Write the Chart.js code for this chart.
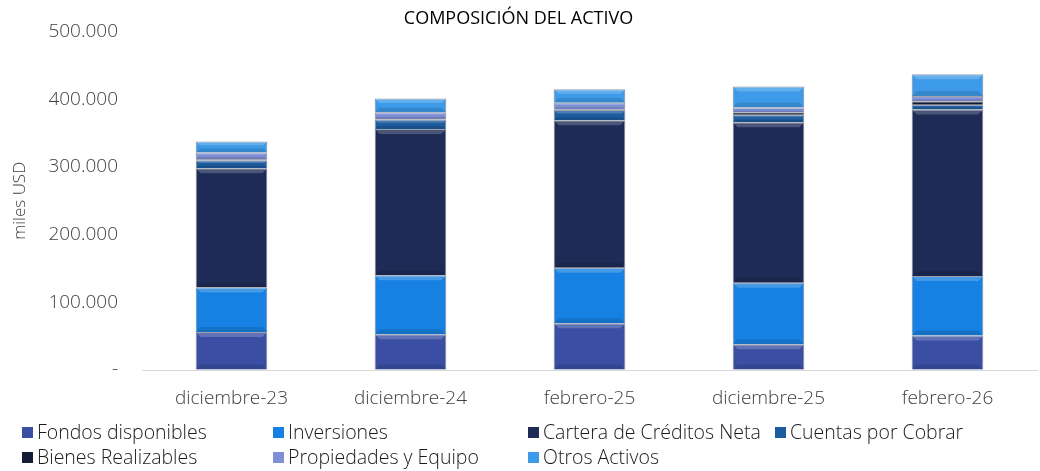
<!DOCTYPE html>
<html>
<head>
<meta charset="utf-8">
<script src="https://cdn.jsdelivr.net/npm/chart.js@4.4.1/dist/chart.umd.min.js"></script>
<style>
  html, body { margin: 0; padding: 0; background: #fff; }
  #wrap { position: relative; width: 1040px; height: 471px; }
  #legend {
    position: absolute; left: 22px; top: 421px;
    display: grid; grid-template-columns: 251px 255px 247px auto;
    row-gap: 3px;
    font-family: "Open Sans", sans-serif; font-size: 19.5px; font-weight: 300; color: #1a1a1a;
  }
  #legend div { display: flex; align-items: center; white-space: nowrap; line-height: 22px; }
  #legend span.box { display: inline-block; width: 11px; height: 11px; margin-right: 4px; }
</style>
</head>
<body>
<div id="wrap">
  <canvas id="activo" width="1040" height="471"></canvas>
  <div id="legend"></div>
</div>
<script>
const periods = ["diciembre-23", "diciembre-24", "febrero-25", "diciembre-25", "febrero-26"];

const fondos = [56000, 53000, 69000, 38000, 51000];
const inversiones = [66000, 87000, 82000, 91000, 88000];
const cartera = [176000, 216000, 218000, 237000, 246000];
const cuentas = [12000, 14000, 15000, 11000, 7000];
const bienes = [1500, 1000, 1000, 4000, 5000];
const propiedades = [10000, 10000, 10000, 7000, 8000];
const otros = [16000, 20000, 20000, 31000, 32000];

const seriesNames = [
  "Fondos disponibles",
  "Inversiones",
  "Cartera de Créditos Neta",
  "Cuentas por Cobrar",
  "Bienes Realizables",
  "Propiedades y Equipo",
  "Otros Activos",
];
const seriesData = [fondos, inversiones, cartera, cuentas, bienes, propiedades, otros];
const colors = ["#3a4fa3", "#1681e2", "#1e2b56", "#1d5c9e", "#141c36", "#7f8fd5", "#3c9ae8"];

// soft bevel look on top of each bar segment
const bevel = {
  id: "bevel",
  afterDatasetsDraw(chart) {
    const ctx = chart.ctx;
    chart.data.datasets.forEach((ds, i) => {
      chart.getDatasetMeta(i).data.forEach((bar) => {
        const { x, y, base, width } = bar.getProps(["x", "y", "base", "width"], true);
        const h = base - y;
        if (h <= 2) return;
        const left = x - width / 2, right = x + width / 2;
        const b = Math.min(5, h / 3);
        ctx.save();
        ctx.fillStyle = "rgba(255,255,255,0.2)";
        ctx.beginPath();
        ctx.moveTo(left, y);
        ctx.lineTo(right, y);
        ctx.lineTo(right - b, y + b);
        ctx.lineTo(left + b, y + b);
        ctx.closePath();
        ctx.fill();
        ctx.fillStyle = "rgba(0,0,0,0.12)";
        ctx.beginPath();
        ctx.moveTo(left, base);
        ctx.lineTo(right, base);
        ctx.lineTo(right - b, base - b);
        ctx.lineTo(left + b, base - b);
        ctx.closePath();
        ctx.fill();
        ctx.restore();
      });
    });
  },
};

const chart = new Chart(document.getElementById("activo"), {
  type: "bar",
  data: {
    labels: periods,
    datasets: seriesNames.map((name, i) => ({
      label: name,
      data: seriesData[i],
      backgroundColor: colors[i],
      borderColor: "rgba(10,20,45,0.5)",
      borderWidth: 1,
      barPercentage: 0.8,
      categoryPercentage: 0.5,
    })),
  },
  options: {
    responsive: false,
    animation: false,
    layout: { padding: { left: 0, right: 3, top: 0, bottom: 61 } },
    plugins: {
      legend: { display: false },
      tooltip: { enabled: false },
      title: {
        display: true,
        text: "COMPOSICIÓN DEL ACTIVO",
        color: "#000",
        font: { family: "Open Sans", size: 18, weight: "normal" },
        padding: { top: 8, bottom: 2 },
      },
    },
    scales: {
      x: {
        stacked: true,
        grid: { display: false },
        border: { color: "#d9d9d9", width: 1 },
        ticks: { color: "#404040", font: { family: "Open Sans", size: 19, weight: 300 }, padding: 9 },
        afterFit: (s) => { s.height = 40; },
      },
      y: {
        stacked: true,
        min: 0,
        max: 500000,
        // invisible tick marks give the gap between labels and plot
        grid: { display: true, drawOnChartArea: false, drawTicks: true, tickLength: 24, color: "rgba(0,0,0,0)" },
        border: { display: false },
        ticks: {
          stepSize: 100000,
          padding: 0,
          color: "#404040",
          font: { family: "Open Sans", size: 19, weight: 300 },
          callback: (v) => (v === 0 ? "-" : v.toLocaleString("de-DE")),
        },
        title: {
          display: true,
          text: "miles USD",
          color: "#404040",
          font: { family: "Open Sans", size: 17, weight: 300 },
          padding: { top: 10, bottom: 0 },
        },
        afterFit: (s) => { s.width = 142; },
      },
    },
  },
  plugins: [bevel],
});

const legendEl = document.getElementById("legend");
chart.data.datasets.forEach((ds) => {
  const item = document.createElement("div");
  const box = document.createElement("span");
  box.className = "box";
  box.style.background = ds.backgroundColor;
  item.appendChild(box);
  item.appendChild(document.createTextNode(ds.label));
  legendEl.appendChild(item);
});
</script>
</body>
</html>
